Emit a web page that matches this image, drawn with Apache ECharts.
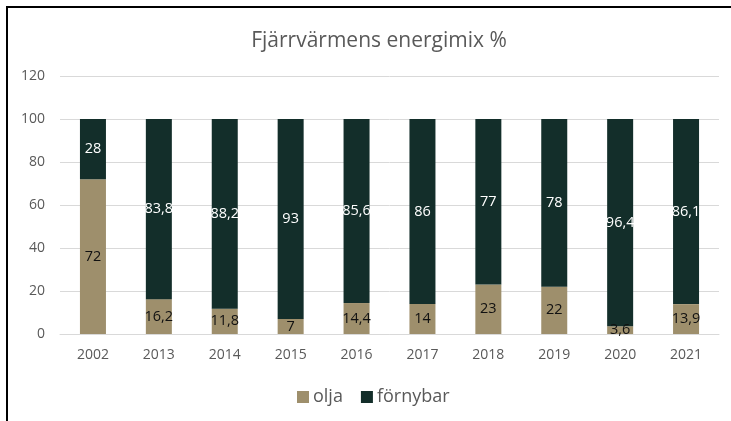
<!DOCTYPE html>
<html>
<head>
<meta charset="utf-8">
<script src="https://cdn.jsdelivr.net/npm/echarts@6/dist/echarts.min.js"></script>
<style>
html, body { margin: 0; padding: 0; background: #fff; }
#chart { width: 731px; height: 421px; }
</style>
</head>
<body>
<div id="chart"></div>
<script>
// data
var years = ["2002", "2013", "2014", "2015", "2016", "2017", "2018", "2019", "2020", "2021"];
var olja = [72, 16.2, 11.8, 7, 14.4, 14, 23, 22, 3.6, 13.9];
var fornybar = [28, 83.8, 88.2, 93, 85.6, 86, 77, 78, 96.4, 86.1];

var fnt = "Open Sans";
function komma(p) {
    return String(p.value).replace(".", ",");
}

var myChart = echarts.init(document.getElementById('chart'));
myChart.setOption({
    animation: false,
    textStyle: { fontFamily: fnt },
    title: {
        text: "Fjärrvärmens energimix %",
        left: 374,
        textAlign: "center",
        top: 26,
        textStyle: { fontFamily: fnt, fontSize: 21, fontWeight: "normal", color: "#595959" }
    },
    legend: {
        top: 383,
        left: 292,
        itemWidth: 12,
        itemHeight: 12,
        itemGap: 18,
        icon: "rect",
        textStyle: { fontFamily: fnt, fontSize: 18, color: "#595959", padding: [0, 0, 0, -1] },
        data: ["olja", "förnybar"]
    },
    grid: { left: 60, right: 12, top: 76, bottom: 87 },
    xAxis: {
        type: "category",
        data: years,
        axisTick: { show: false },
        axisLine: { lineStyle: { color: "#d9d9d9" } },
        axisLabel: { color: "#595959", fontSize: 14, margin: 14 }
    },
    yAxis: {
        type: "value",
        min: 0,
        max: 120,
        interval: 20,
        axisLine: { show: false },
        axisTick: { show: false },
        axisLabel: { color: "#595959", fontSize: 14, margin: 15 },
        splitLine: { lineStyle: { color: "#d9d9d9" } }
    },
    series: [
        {
            name: "olja",
            type: "bar",
            stack: "mix",
            barWidth: 26,
            data: olja,
            itemStyle: { color: "#9e8f6c" },
            label: { show: true, position: "inside", color: "#111", fontSize: 14.5, formatter: komma }
        },
        {
            name: "förnybar",
            type: "bar",
            stack: "mix",
            barWidth: 26,
            data: fornybar,
            itemStyle: { color: "#132e2a" },
            label: { show: true, position: "inside", color: "#fff", fontSize: 14.5, formatter: komma }
        }
    ],
    graphic: [
        { type: "line", shape: { x1: 6, y1: 7, x2: 731, y2: 7 }, style: { stroke: "#000", lineWidth: 2 } },
        { type: "line", shape: { x1: 7, y1: 7, x2: 7, y2: 421 }, style: { stroke: "#000", lineWidth: 2 } }
    ]
});
</script>
</body>
</html>
